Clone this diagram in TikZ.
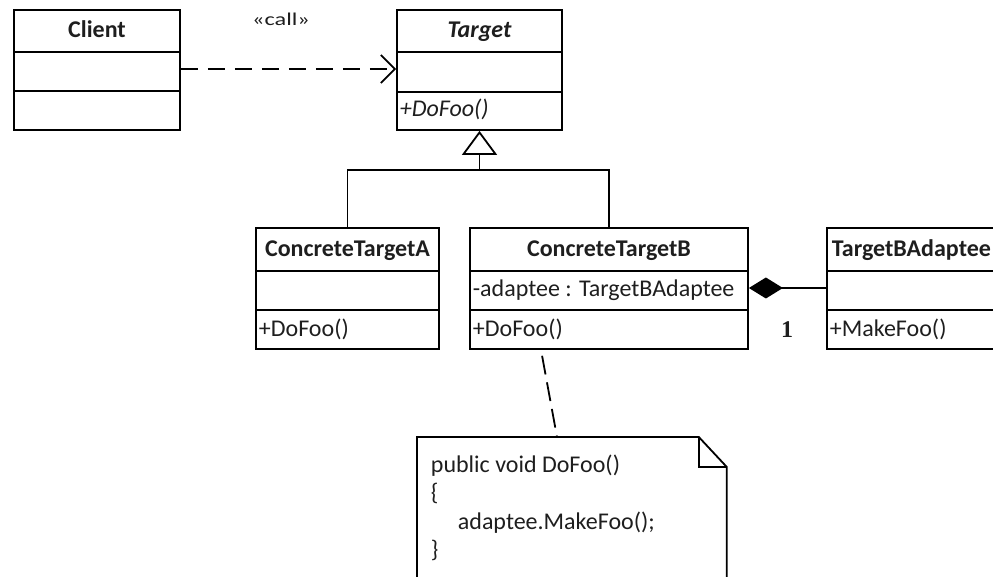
\documentclass[tikz,border=0pt]{standalone}
\usepackage{fontspec}
\setmainfont{Carlito}
\newfontfamily\serifbold{Liberation Serif}
\usetikzlibrary{arrows.meta}
\definecolor{txt}{RGB}{30,30,30}
\begin{document}
\begin{tikzpicture}[x=1pt,y=-1pt,line width=1.8pt,
  part/.style 2 args={draw,inner sep=0pt,minimum width=#1,minimum height=#2},
  title/.style={anchor=base,inner sep=0pt,text=txt,font=\fontsize{24}{28}\selectfont\bfseries},
  member/.style={anchor=base west,inner sep=0pt,text=txt,font=\fontsize{24}{28}\selectfont},
  notetxt/.style={anchor=base west,inner sep=0pt,text=txt,font=\fontsize{24}{28}\selectfont}]
\useasboundingbox (0,0) rectangle (993,577);
\clip (0,0) rectangle (993,577);

% Client
\node[part={166pt}{42pt}] (clienth) at (97,31) {};
\node[part={166pt}{39pt}] (clienta) at (97,71.5) {};
\node[part={166pt}{39pt}] (cliento) at (97,110.5) {};
\node[title] (clientn) at (97,38) {Client};

% Target
\node[part={165pt}{42pt}] (targeth) at (479.5,31) {};
\node[part={165pt}{40pt}] (targeta) at (479.5,72) {};
\node[part={165pt}{38pt}] (targeto) at (479.5,111) {};
\node[title,font=\fontsize{24}{28}\selectfont\bfseries\itshape] (targetn) at (479.5,38) {Target};
\node[member,font=\fontsize{24}{28}\selectfont\itshape] (targetop) at (399,117) {+DoFoo()};

% ConcreteTargetA
\node[part={183pt}{43pt}] (ctah) at (347.5,249.5) {};
\node[part={183pt}{39pt}] (ctaa) at (347.5,290.5) {};
\node[part={183pt}{39pt}] (ctao) at (347.5,329.5) {};
\node[title] (ctan) at (347.5,257) {ConcreteTargetA};
\node[member] (ctaop) at (258,336) {+DoFoo()};

% ConcreteTargetB
\node[part={278pt}{43pt}] (ctbh) at (609,249.5) {};
\node[part={278pt}{39pt}] (ctba) at (609,290.5) {};
\node[part={278pt}{39pt}] (ctbo) at (609,329.5) {};
\node[title] (ctbn) at (609,257) {ConcreteTargetB};
\node[member] (ctbattr) at (472,297) {-adaptee : TargetBAdaptee};
\node[member] (ctbop) at (472,336) {+DoFoo()};

% TargetBAdaptee
\node[part={176pt}{43pt}] (tbah) at (915,249.5) {};
\node[part={176pt}{39pt}] (tbaa) at (915,290.5) {};
\node[part={176pt}{39pt}] (tbao) at (915,329.5) {};
\node[title,anchor=base west] (tban) at (831,257) {TargetBAdaptee};
\node[member] (tbaop) at (829,336) {+MakeFoo()};

% call dependency
\draw[dash pattern=on 17pt off 10pt,-{Straight Barb[length=14pt,width=28pt]}]
  ([yshift=2.5pt]clienta.east) -- ([yshift=2.5pt]clienta.east -| targeta.west);
\node[anchor=base,inner sep=0pt,text=txt,font=\fontsize{18}{20}\selectfont] (calllbl) at (281,26) {\scalebox{1.35}[1]{«call»}};

% generalization
\coordinate (genjoin) at (479.5,170);
\draw (ctah.north) |- (genjoin);
\draw (ctbh.north) |- (genjoin);
\draw[-{Triangle[open,length=24pt,width=35pt]}] (genjoin) -- (targeto.south);

% composition
\draw[{Diamond[length=34pt,width=21pt]}-] ([yshift=2.5pt]ctba.east) -- ([yshift=2.5pt]ctba.east -| tbaa.west);
\node[anchor=base,inner sep=0pt,text=txt,font=\fontsize{24}{28}\selectfont\serifbold\bfseries] (mult) at (787,337) {1};

% note
\node[inner sep=0pt,minimum width=308pt,minimum height=163pt,anchor=north west] (note) at (417,437) {};
\coordinate (nfold) at ([xshift=-28pt]note.north east);
\coordinate (nfoldb) at ([yshift=-30pt]note.north east);
\draw[line join=miter] (note.north west) -- (nfold) -- (nfoldb) -- (note.south east) -- (note.south west) -- cycle;
\draw (nfold) |- (nfoldb);
\coordinate (noteanchor) at ([xshift=-68pt]ctbo.south);
\coordinate (notetop) at ([xshift=140pt]note.north west);
\draw[dash pattern=on 19pt off 8pt,dash phase=21pt] (noteanchor) -- (notetop);
\node[notetxt] (nl1) at (430,472) {public void DoFoo()};
\node[notetxt] (nl2) at (430,500) {\{};
\node[notetxt] (nl3) at (457,529) {adaptee.MakeFoo();};
\node[notetxt] (nl4) at (430,557) {\}};
\end{tikzpicture}
\end{document}
